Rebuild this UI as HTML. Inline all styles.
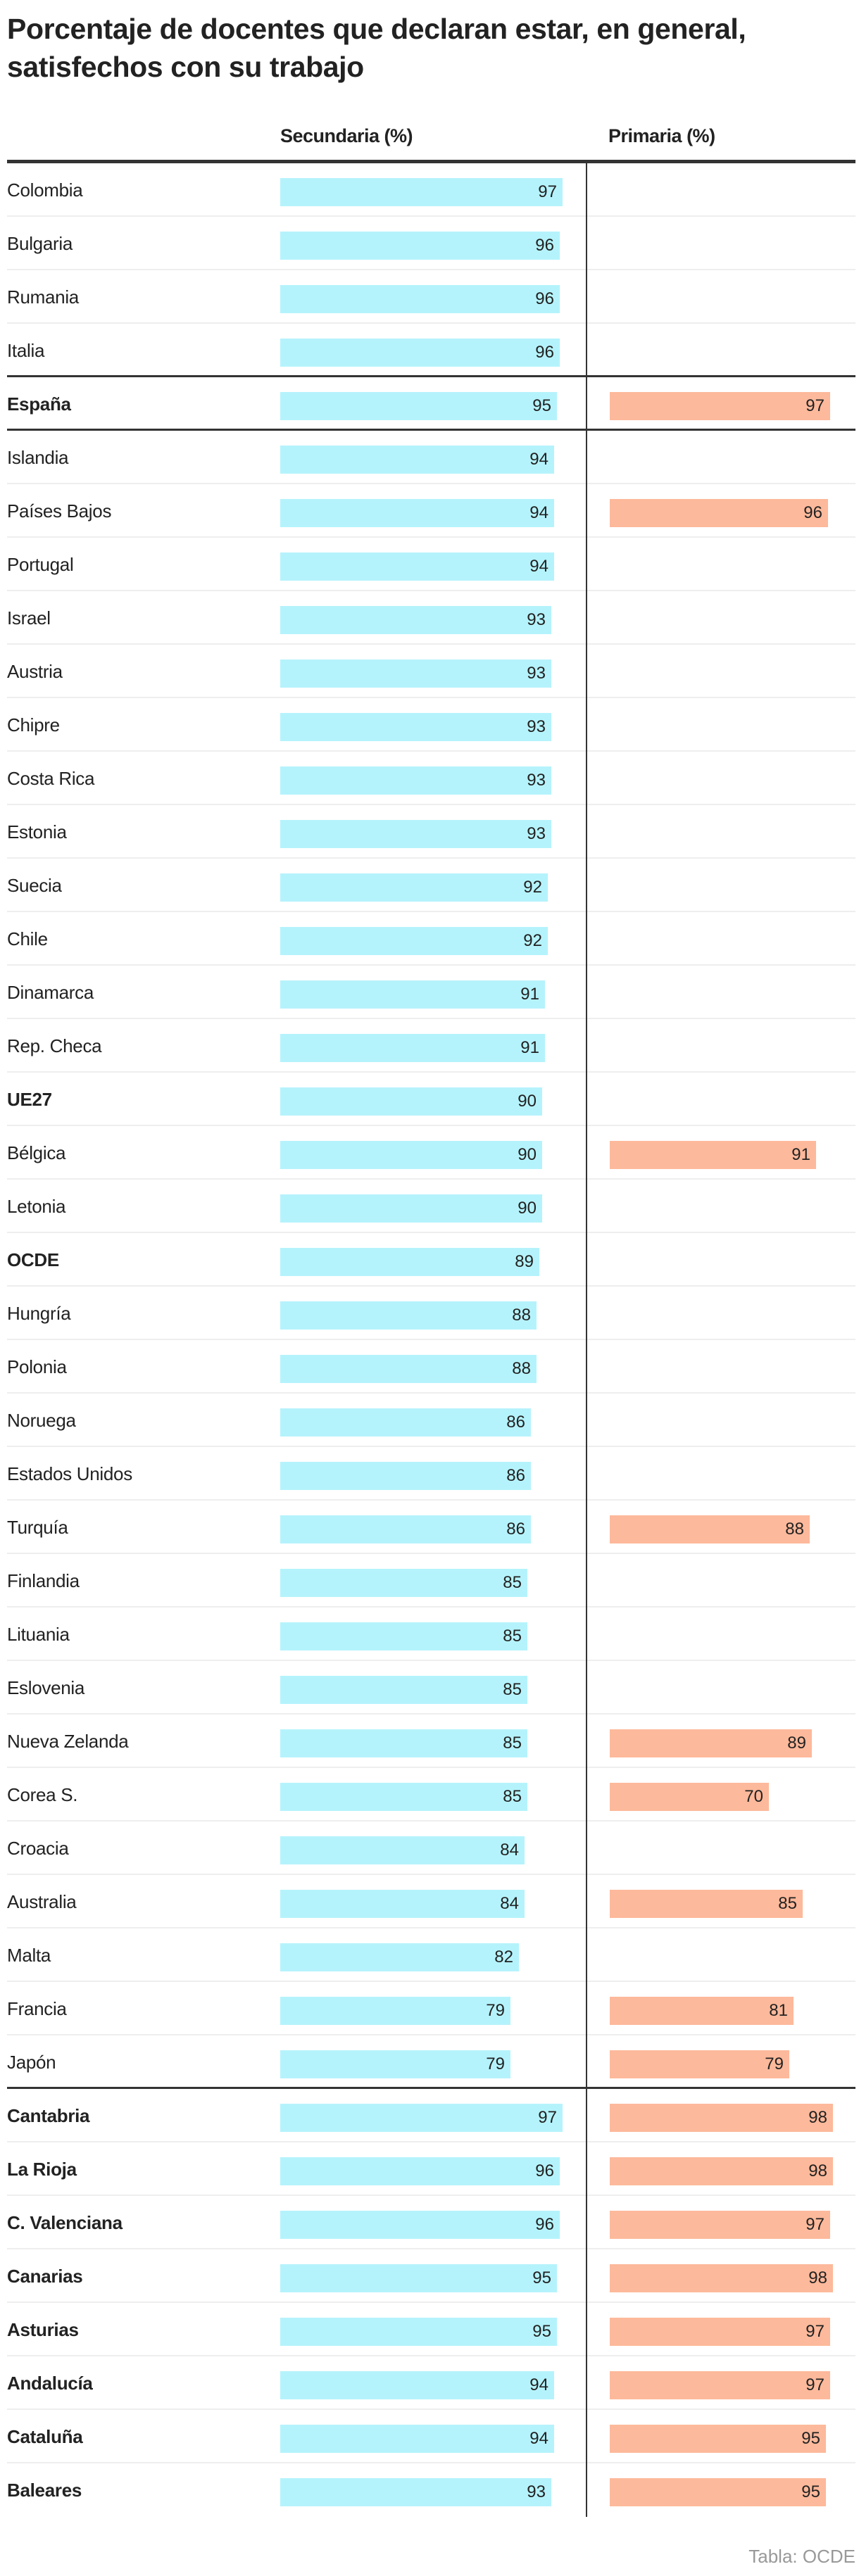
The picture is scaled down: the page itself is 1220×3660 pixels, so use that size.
<!DOCTYPE html>
<html><head><meta charset="utf-8">
<style>
*{margin:0;padding:0;box-sizing:border-box}
body{width:1220px;height:3660px;background:#fff;position:relative;font-family:"Liberation Sans",sans-serif;color:#222;overflow:hidden}
h1{position:absolute;left:10px;top:14px;font-size:41px;line-height:54px;font-weight:bold;letter-spacing:-0.4px;width:1210px;white-space:nowrap}
.hd{position:absolute;top:178px;font-size:27px;font-weight:bold;letter-spacing:-0.5px}
.top{position:absolute;left:10px;top:227px;width:1205px;height:5px;background:#333}
.vd{position:absolute;left:832px;top:229px;width:2px;height:3347px;background:#333}
.r{position:absolute;left:10px;width:1205px;height:76px;border-bottom:2px solid #eee}
.r.k{border-bottom:3px solid #333}
.r.n{border-bottom:none}
.l{position:absolute;left:0;top:0;line-height:76px;font-size:26px;letter-spacing:-0.3px}
.b .l{font-weight:bold}
.s,.p{position:absolute;top:21px;height:40px;font-size:24px;line-height:40px;text-align:right;padding-right:8px}
.s{left:388px;background:#b5f3fc}
.p{left:856px;background:#fdb99b}
.ft{position:absolute;right:5px;top:3617px;font-size:26px;color:#999}
</style></head><body>
<h1>Porcentaje de docentes que declaran estar, en general,<br>satisfechos con su trabajo</h1>
<div class="hd" style="left:398px">Secundaria (%)</div>
<div class="hd" style="left:864px">Primaria (%)</div>
<div class="top"></div>

<div class="r" style="top:232px"><span class="l">Colombia</span><div class="s" style="width:401px">97</div></div>
<div class="r" style="top:308px"><span class="l">Bulgaria</span><div class="s" style="width:397px">96</div></div>
<div class="r" style="top:384px"><span class="l">Rumania</span><div class="s" style="width:397px">96</div></div>
<div class="r k" style="top:460px"><span class="l">Italia</span><div class="s" style="width:397px">96</div></div>
<div class="r k b" style="top:536px"><span class="l">España</span><div class="s" style="width:393px">95</div><div class="p" style="width:313px">97</div></div>
<div class="r" style="top:612px"><span class="l">Islandia</span><div class="s" style="width:389px">94</div></div>
<div class="r" style="top:688px"><span class="l">Países Bajos</span><div class="s" style="width:389px">94</div><div class="p" style="width:310px">96</div></div>
<div class="r" style="top:764px"><span class="l">Portugal</span><div class="s" style="width:389px">94</div></div>
<div class="r" style="top:840px"><span class="l">Israel</span><div class="s" style="width:385px">93</div></div>
<div class="r" style="top:916px"><span class="l">Austria</span><div class="s" style="width:385px">93</div></div>
<div class="r" style="top:992px"><span class="l">Chipre</span><div class="s" style="width:385px">93</div></div>
<div class="r" style="top:1068px"><span class="l">Costa Rica</span><div class="s" style="width:385px">93</div></div>
<div class="r" style="top:1144px"><span class="l">Estonia</span><div class="s" style="width:385px">93</div></div>
<div class="r" style="top:1220px"><span class="l">Suecia</span><div class="s" style="width:380px">92</div></div>
<div class="r" style="top:1296px"><span class="l">Chile</span><div class="s" style="width:380px">92</div></div>
<div class="r" style="top:1372px"><span class="l">Dinamarca</span><div class="s" style="width:376px">91</div></div>
<div class="r" style="top:1448px"><span class="l">Rep. Checa</span><div class="s" style="width:376px">91</div></div>
<div class="r b" style="top:1524px"><span class="l">UE27</span><div class="s" style="width:372px">90</div></div>
<div class="r" style="top:1600px"><span class="l">Bélgica</span><div class="s" style="width:372px">90</div><div class="p" style="width:293px">91</div></div>
<div class="r" style="top:1676px"><span class="l">Letonia</span><div class="s" style="width:372px">90</div></div>
<div class="r b" style="top:1752px"><span class="l">OCDE</span><div class="s" style="width:368px">89</div></div>
<div class="r" style="top:1828px"><span class="l">Hungría</span><div class="s" style="width:364px">88</div></div>
<div class="r" style="top:1904px"><span class="l">Polonia</span><div class="s" style="width:364px">88</div></div>
<div class="r" style="top:1980px"><span class="l">Noruega</span><div class="s" style="width:356px">86</div></div>
<div class="r" style="top:2056px"><span class="l">Estados Unidos</span><div class="s" style="width:356px">86</div></div>
<div class="r" style="top:2132px"><span class="l">Turquía</span><div class="s" style="width:356px">86</div><div class="p" style="width:284px">88</div></div>
<div class="r" style="top:2208px"><span class="l">Finlandia</span><div class="s" style="width:351px">85</div></div>
<div class="r" style="top:2284px"><span class="l">Lituania</span><div class="s" style="width:351px">85</div></div>
<div class="r" style="top:2360px"><span class="l">Eslovenia</span><div class="s" style="width:351px">85</div></div>
<div class="r" style="top:2436px"><span class="l">Nueva Zelanda</span><div class="s" style="width:351px">85</div><div class="p" style="width:287px">89</div></div>
<div class="r" style="top:2512px"><span class="l">Corea S.</span><div class="s" style="width:351px">85</div><div class="p" style="width:226px">70</div></div>
<div class="r" style="top:2588px"><span class="l">Croacia</span><div class="s" style="width:347px">84</div></div>
<div class="r" style="top:2664px"><span class="l">Australia</span><div class="s" style="width:347px">84</div><div class="p" style="width:274px">85</div></div>
<div class="r" style="top:2740px"><span class="l">Malta</span><div class="s" style="width:339px">82</div></div>
<div class="r" style="top:2816px"><span class="l">Francia</span><div class="s" style="width:327px">79</div><div class="p" style="width:261px">81</div></div>
<div class="r k" style="top:2892px"><span class="l">Japón</span><div class="s" style="width:327px">79</div><div class="p" style="width:255px">79</div></div>
<div class="r b" style="top:2968px"><span class="l">Cantabria</span><div class="s" style="width:401px">97</div><div class="p" style="width:317px">98</div></div>
<div class="r b" style="top:3044px"><span class="l">La Rioja</span><div class="s" style="width:397px">96</div><div class="p" style="width:317px">98</div></div>
<div class="r b" style="top:3120px"><span class="l">C. Valenciana</span><div class="s" style="width:397px">96</div><div class="p" style="width:313px">97</div></div>
<div class="r b" style="top:3196px"><span class="l">Canarias</span><div class="s" style="width:393px">95</div><div class="p" style="width:317px">98</div></div>
<div class="r b" style="top:3272px"><span class="l">Asturias</span><div class="s" style="width:393px">95</div><div class="p" style="width:313px">97</div></div>
<div class="r b" style="top:3348px"><span class="l">Andalucía</span><div class="s" style="width:389px">94</div><div class="p" style="width:313px">97</div></div>
<div class="r b" style="top:3424px"><span class="l">Cataluña</span><div class="s" style="width:389px">94</div><div class="p" style="width:307px">95</div></div>
<div class="r b n" style="top:3500px"><span class="l">Baleares</span><div class="s" style="width:385px">93</div><div class="p" style="width:307px">95</div></div>

<div class="vd"></div>
<div class="ft">Tabla: OCDE</div>
</body></html>
